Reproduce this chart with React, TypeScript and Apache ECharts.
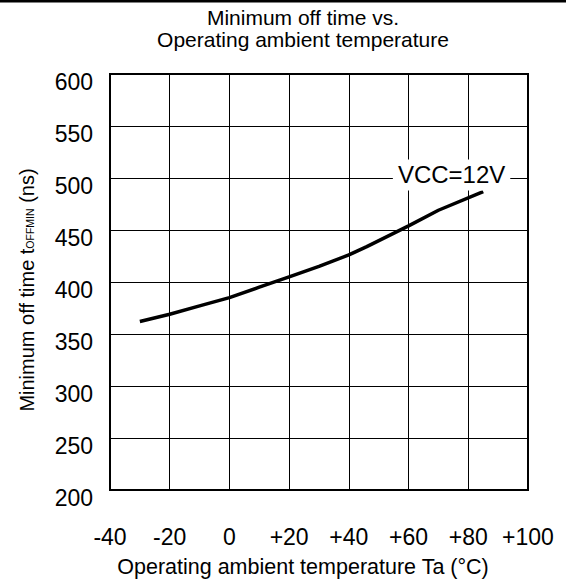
import React, { useEffect, useRef } from "react";
import * as echarts from "echarts";

const temperatures = [-30, -20, -10, 0, 10, 20, 30, 40, 46, 60, 70, 85];
const offTimes = [362, 369, 377, 385, 395, 405, 415, 426, 434, 454, 469, 487];
const xTicks = { min: -40, max: 100, interval: 20 };
const yTicks = { min: 200, max: 600, interval: 50 };
const seriesLabel = "VCC=12V";
const labelAnchor = [74.4, 503];

const FONT = "'Liberation Sans', Arial, sans-serif";

export default function App() {
  const ref = useRef<HTMLDivElement>(null);
  useEffect(() => {
    if (!ref.current) return;
    const chart = echarts.init(ref.current, null, { renderer: "svg" });
    chart.setOption({
      animation: false,
      backgroundColor: "#fff",
      title: {
        text: "Minimum off time vs.\nOperating ambient temperature",
        left: 303,
        top: 6,
        textAlign: "center",
        padding: 0,
        textStyle: { fontSize: 21, lineHeight: 22, fontWeight: "normal", color: "#000", fontFamily: FONT },
      },
      grid: {
        left: 110,
        top: 74,
        width: 418,
        height: 416,
        show: true,
        borderColor: "#000",
        borderWidth: 2,
        backgroundColor: "transparent",
      },
      xAxis: {
        type: "value",
        min: xTicks.min,
        max: xTicks.max,
        interval: xTicks.interval,
        name: "Operating ambient temperature Ta (°C)",
        nameLocation: "middle",
        nameGap: 66,
        nameTextStyle: { fontSize: 21.5, color: "#000", fontFamily: FONT, padding: [0, 32, 0, 0], verticalAlign: "top" },
        axisLine: { show: false },
        axisTick: { show: false },
        splitLine: { show: true, lineStyle: { color: "#000", width: 1 } },
        axisLabel: {
          margin: 35,
          fontSize: 23,
          color: "#000",
          fontFamily: FONT,
          formatter: (v: number) => (v > 0 ? "+" + v : String(v)),
        },
      },
      yAxis: {
        type: "value",
        min: yTicks.min,
        max: yTicks.max,
        interval: yTicks.interval,
        axisLine: { show: false },
        axisTick: { show: false },
        splitLine: { show: true, lineStyle: { color: "#000", width: 1 } },
        axisLabel: {
          margin: 17,
          fontSize: 23,
          lineHeight: 15,
          verticalAlign: "top",
          color: "#000",
          fontFamily: FONT,
        },
      },
      graphic: [
        {
          type: "line",
          shape: { x1: 0, y1: 1.25, x2: 566, y2: 1.25 },
          style: { stroke: "#000", lineWidth: 2.5 },
        },
        {
          type: "text",
          x: 27,
          y: 290,
          rotation: Math.PI / 2,
          style: {
            text: "{a|Minimum off time t}{s|OFFMIN}{a| (ns)}",
            align: "center",
            verticalAlign: "middle",
            fill: "#000",
            rich: {
              a: { fontSize: 20, lineHeight: 22, fontFamily: FONT, fill: "#000" },
              s: { fontSize: 10.5, lineHeight: 10, fontFamily: FONT, fill: "#000", verticalAlign: "bottom", padding: [0, 0, 3, 0] },
            },
          },
        },
      ],
      series: [
        {
          type: "line",
          data: temperatures.map((t, i) => [t, offTimes[i]]),
          symbol: "none",
          lineStyle: { color: "#000", width: 3.5 },
          z: 3,
          markPoint: {
            symbol: "rect",
            symbolSize: 1,
            itemStyle: { color: "transparent" },
            label: {
              show: true,
              position: "inside",
              formatter: seriesLabel,
              fontSize: 24,
              lineHeight: 24,
              color: "#000",
              fontFamily: FONT,
              backgroundColor: "#fff",
              padding: [3, 5, 4, 5],
            },
            data: [{ coord: labelAnchor }],
          },
        },
      ],
    });
    return () => chart.dispose();
  }, []);
  return <div ref={ref} style={{ position: "absolute", left: 0, top: 0, width: 566, height: 585 }} />;
}
